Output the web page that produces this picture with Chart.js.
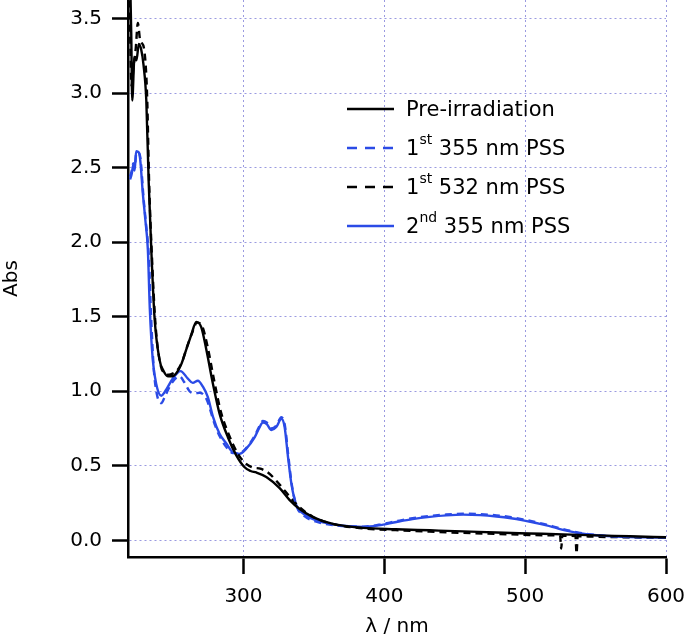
<!DOCTYPE html>
<html>
<head>
<meta charset="utf-8">
<title>Absorption spectra</title>
<script src="https://cdn.jsdelivr.net/npm/chart.js@4.4.1/dist/chart.umd.min.js"></script>
<style>
  html, body { margin: 0; padding: 0; background: #fff; }
  #wrap { position: relative; width: 689px; height: 639px; }
  #legend {
    position: absolute; left: 347px; top: 89px;
    font-family: "DejaVu Sans", sans-serif; font-size: 21px; color: #000;
  }
  .item { display: flex; align-items: center; height: 39px; white-space: nowrap; }
  .item svg { margin-right: 12px; }
  .item sup { font-size: 14px; position: relative; top: -11px; vertical-align: baseline; }
</style>
</head>
<body>
<div id="wrap">
  <canvas id="grafico" width="689" height="639"></canvas>
  <div id="legend"></div>
</div>
<script>
// Valores (longitud de onda en nm, absorbancia)
const preWl  = [219, 220.3, 221, 222.6, 224, 225.7, 227.4, 229, 231, 232.7, 234.5, 236.8, 240.4, 243, 246.3, 249.3, 252.3, 255.8, 259.4, 263, 266.5, 270, 273.6, 278.3, 283, 289, 294.9, 300.8, 305, 309.1, 316.2, 325.7, 332.8, 339.9, 349.3, 363.5, 384.9, 408, 432.3, 456, 479.7, 503, 527, 550, 574.4, 600];
const preAbs = [4.0, 3.4, 2.95, 3.24, 3.22, 3.33, 3.29, 3.19, 2.95, 2.4, 1.96, 1.50, 1.21, 1.14, 1.10, 1.10, 1.12, 1.18, 1.28, 1.38, 1.465, 1.43, 1.28, 1.05, 0.85, 0.69, 0.57, 0.49, 0.465, 0.455, 0.425, 0.35, 0.27, 0.21, 0.156, 0.11, 0.083, 0.074, 0.067, 0.06, 0.052, 0.046, 0.04, 0.033, 0.027, 0.02];

const uv1Wl  = [219.5, 220.7, 221.8, 222.7, 224, 225.7, 227, 229, 231, 232.8, 234.3, 236.3, 238.5, 241.6, 244, 248.7, 254.6, 258, 261.7, 265.3, 268.8, 273.6, 279.5, 283, 287.8, 292.5, 297.2, 302, 307.9, 311, 313.8, 316.5, 319.8, 323.3, 326.9, 329.4, 331.8, 334.2, 337.7, 342.2, 351.7, 361, 368.3, 384.9, 396, 408.6, 420, 432.3, 444, 456, 468, 479.7, 490, 498.6, 507, 515.2, 523, 531.8, 541, 550.8, 562, 574.4, 587, 600];
const uv1Abs = [2.44, 2.48, 2.53, 2.5, 2.6, 2.6, 2.55, 2.3, 2.1, 1.9, 1.52, 1.15, 0.98, 0.92, 0.96, 1.05, 1.10, 1.06, 1.0, 0.985, 0.99, 0.95, 0.78, 0.70, 0.626, 0.585, 0.585, 0.62, 0.70, 0.76, 0.80, 0.79, 0.75, 0.77, 0.825, 0.77, 0.57, 0.38, 0.23, 0.17, 0.125, 0.105, 0.097, 0.092, 0.104, 0.128, 0.148, 0.163, 0.173, 0.178, 0.175, 0.167, 0.155, 0.14, 0.123, 0.105, 0.085, 0.064, 0.047, 0.035, 0.027, 0.022, 0.02, 0.018];

const visWl  = [219, 220.5, 222, 223.5, 225, 226.5, 227.4, 229.5, 231.5, 233, 235, 237.5, 241, 244, 247, 250, 253, 256.5, 260, 263.5, 267, 270.5, 274.5, 279, 284, 290, 296, 301, 306, 312, 318, 326, 333, 340, 349, 363, 385, 408, 432, 456, 480, 503, 520, 524.8, 525.6, 526.4, 530, 535.7, 536.5, 537.3, 550, 575, 600];
const visAbs = [3.7, 3.05, 3.18, 3.3, 3.47, 3.36, 3.34, 3.29, 3.0, 2.4, 1.9, 1.45, 1.18, 1.12, 1.11, 1.12, 1.14, 1.2, 1.3, 1.39, 1.46, 1.44, 1.3, 1.08, 0.86, 0.7, 0.58, 0.52, 0.49, 0.48, 0.45, 0.37, 0.29, 0.22, 0.16, 0.11, 0.08, 0.068, 0.058, 0.05, 0.043, 0.036, 0.033, 0.032, -0.055, 0.032, 0.03, 0.028, -0.09, 0.028, 0.024, 0.02, 0.017];

const uv2Wl  = [219.5, 220.7, 221.8, 222.7, 223.8, 225.7, 226.7, 228.5, 230.3, 232.1, 233.5, 235.6, 238, 241.6, 245.1, 249.8, 255.3, 260.5, 264, 267.6, 271.2, 274.7, 278.3, 283, 287.8, 292.5, 297.2, 302, 307.9, 311, 313.8, 316.5, 319.8, 323.3, 326.9, 329.2, 331.6, 334, 337.5, 342.2, 351.7, 361, 368.3, 384.9, 396, 408.6, 420, 432.3, 444, 456, 468, 479.7, 490, 498.6, 507, 515.2, 523, 531.8, 541, 550.8, 562, 574.4, 587, 600];
const uv2Abs = [2.42, 2.46, 2.52, 2.48, 2.61, 2.60, 2.55, 2.33, 2.15, 1.95, 1.55, 1.21, 1.05, 0.97, 1.01, 1.085, 1.135, 1.085, 1.056, 1.07, 1.03, 0.96, 0.83, 0.715, 0.65, 0.59, 0.58, 0.615, 0.69, 0.75, 0.79, 0.78, 0.74, 0.76, 0.815, 0.76, 0.56, 0.38, 0.235, 0.18, 0.134, 0.112, 0.10, 0.09, 0.1, 0.123, 0.142, 0.157, 0.167, 0.172, 0.169, 0.16, 0.148, 0.134, 0.118, 0.10, 0.08, 0.06, 0.045, 0.034, 0.027, 0.022, 0.02, 0.018];

const xTicks = [300, 400, 500, 600];
const yTicks = [0, 0.5, 1.0, 1.5, 2.0, 2.5, 3.0, 3.5];

const negro = '#000000';
const azul = '#2b4be6';
const rejilla = '#9a9ae0';

// Unir x e y en puntos
function puntos(xs, ys) {
    return xs.map((x, i) => ({ x: x, y: ys[i] }));
}

function serie(label, xs, ys, color, dash) {
    return {
        label: label,
        data: puntos(xs, ys),
        borderColor: color,
        backgroundColor: color,
        borderWidth: 2.4,
        borderDash: dash,
        pointRadius: 0,
        cubicInterpolationMode: 'monotone',
        fill: false
    };
}

Chart.defaults.font.family = '"DejaVu Sans", sans-serif';
Chart.defaults.color = '#000';

const ctx = document.getElementById('grafico').getContext('2d');

const chart = new Chart(ctx, {
    type: 'line',
    data: {
        datasets: [
            serie('Pre-irradiation', preWl, preAbs, negro, []),
            serie('1st 355 nm PSS', uv1Wl, uv1Abs, azul, [7, 5]),
            serie('1st 532 nm PSS', visWl, visAbs, negro, [7, 5]),
            serie('2nd 355 nm PSS', uv2Wl, uv2Abs, azul, [])
        ]
    },
    options: {
        responsive: false,
        animation: false,
        layout: { padding: { top: 0, right: 23, left: 0, bottom: 0 } },
        plugins: {
            legend: { display: false },
            tooltip: { enabled: false }
        },
        scales: {
            x: {
                type: 'linear',
                min: 218,
                max: 600,
                afterBuildTicks: s => { s.ticks = xTicks.map(v => ({ value: v })); },
                afterFit: s => { s.height = 82; s.paddingLeft = 0; s.paddingRight = 0; },
                grid: {
                    color: rejilla, lineWidth: 1,
                    tickColor: negro, tickWidth: 2.5, tickLength: 17, tickBorderDash: []
                },
                border: { display: true, color: negro, width: 2.5, dash: [2, 3] },
                ticks: { color: negro, font: { size: 20 }, padding: 11, maxRotation: 0, autoSkip: false },
                title: { display: true, text: 'λ / nm', color: negro, font: { size: 20 }, padding: 0 }
            },
            y: {
                min: -0.112,
                max: 3.624,
                afterBuildTicks: s => { s.ticks = yTicks.map(v => ({ value: v })); },
                afterFit: s => { s.width = 128; s.paddingTop = 0; s.paddingBottom = 0; },
                grid: {
                    color: rejilla, lineWidth: 1,
                    tickColor: negro, tickWidth: 2.5, tickLength: 16, tickBorderDash: []
                },
                border: { display: true, color: negro, width: 2.5, dash: [2, 3] },
                ticks: {
                    color: negro, font: { size: 20 }, padding: 10, autoSkip: false,
                    callback: v => v.toFixed(1)
                },
                title: { display: true, text: 'Abs', color: negro, font: { size: 20 }, padding: 0 }
            }
        }
    }
});

// Leyenda en HTML para poder poner los superindices
const leyenda = document.getElementById('legend');
chart.data.datasets.forEach(ds => {
    const item = document.createElement('div');
    item.className = 'item';
    const dash = ds.borderDash.length ? ' stroke-dasharray="10 8"' : '';
    item.innerHTML =
        '<svg width="47" height="4"><line x1="0" y1="2" x2="47" y2="2" stroke="' + ds.borderColor +
        '" stroke-width="2.4"' + dash + '/></svg>' +
        '<span>' + ds.label.replace(/^(\d)(st|nd)/, '$1<sup>$2</sup>') + '</span>';
    leyenda.appendChild(item);
});
</script>
</body>
</html>
